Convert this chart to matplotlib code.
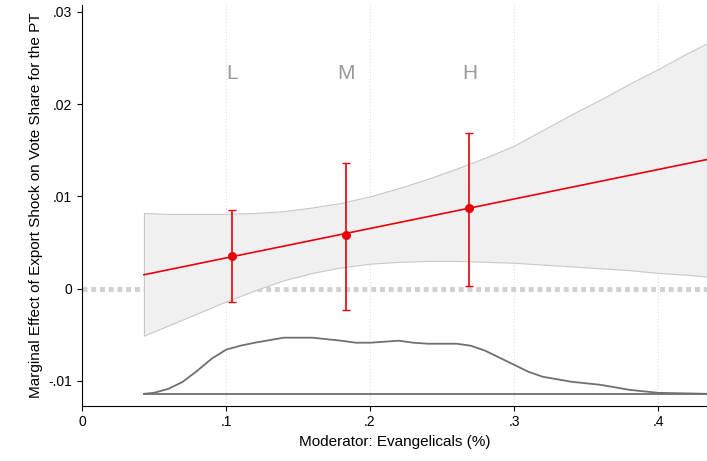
import numpy as np
import matplotlib.pyplot as plt

plt.rcParams["font.family"] = ["Liberation Sans", "DejaVu Sans"]

line_x = [0.043, 0.434]
line_y = [0.0015, 0.0140]

band_x = [0.043, 0.06, 0.08, 0.1, 0.12, 0.14, 0.16, 0.18, 0.2, 0.22, 0.24, 0.26, 0.28,
          0.3, 0.32, 0.34, 0.36, 0.38, 0.4, 0.42, 0.434]
band_hi = [0.0082, 0.0081, 0.0081, 0.0081, 0.0082, 0.0084, 0.0088, 0.0093, 0.0100, 0.0109,
           0.0119, 0.0130, 0.0142, 0.0155, 0.0172, 0.0189, 0.0205, 0.0222, 0.0238, 0.0255, 0.0266]
band_lo = [-0.0051, -0.0040, -0.0027, -0.0014, -0.0002, 0.0009, 0.0017, 0.0023, 0.0027,
           0.0029, 0.0030, 0.0030, 0.0029, 0.0028, 0.0026, 0.0024, 0.0022, 0.0020, 0.0017,
           0.0015, 0.0013]

pt_x = [0.104, 0.183, 0.269]
pt_y = [0.0035, 0.0058, 0.0087]
pt_lo = [-0.0015, -0.0023, 0.0003]
pt_hi = [0.0085, 0.0136, 0.0169]
pt_lab = ["L", "M", "H"]

dens_x = [0.043, 0.05, 0.06, 0.07, 0.08, 0.09, 0.1, 0.11, 0.12, 0.14, 0.16, 0.18, 0.19, 0.2,
          0.21, 0.22, 0.23, 0.24, 0.25, 0.26, 0.27, 0.28, 0.29, 0.3, 0.31, 0.32, 0.34, 0.36,
          0.38, 0.4, 0.434]
dens_px = [393, 392, 388, 381, 370, 358, 349, 345, 342, 337, 337, 340, 342, 342,
           341, 340, 342, 343, 343, 343, 345, 350, 357, 364, 371, 376, 381, 384,
           389, 392, 393]
dens_y = [(288 - p) / 92 * 0.01 for p in dens_px]
base_y = (288 - 393) / 92 * 0.01

fig, ax = plt.subplots(figsize=(7.07, 4.61), dpi=100)
fig.subplots_adjust(left=0.116, right=1.0, bottom=0.12, top=0.99)

for gx in [0.1, 0.2, 0.3, 0.4]:
    ax.axvline(gx, color="#dddddd", lw=0.8, ls=(0, (1, 2)), zorder=0)
ax.axhline(0, color="#d0d0d0", lw=3.5, ls=(0, (1, 0.8)), zorder=1)

ax.fill_between(band_x, band_lo, band_hi, color="#f0f0f0", edgecolor="#c8c8c8", lw=0.8, zorder=2)
ax.plot(line_x, line_y, color="#e8000b", lw=1.2, zorder=3)
yerr = [np.subtract(pt_y, pt_lo), np.subtract(pt_hi, pt_y)]
ax.errorbar(pt_x, pt_y, yerr=yerr, fmt="o", color="#e8000b", ms=5.5, capsize=3, lw=1.2, zorder=4)
for x, lab in zip(pt_x, pt_lab):
    ax.text(x, 0.0233, lab, color="#999999", fontsize=15, ha="center", va="center")

ax.plot(dens_x, dens_y, color="#707070", lw=1.3, zorder=3)
ax.plot([0.043, 0.434], [base_y, base_y], color="#707070", lw=1.3, zorder=3)

ax.set_xlim(0, 0.434)
ax.set_ylim(-0.0127, 0.0308)
ax.set_xticks([0, 0.1, 0.2, 0.3, 0.4])
ax.set_xticklabels(["0", ".1", ".2", ".3", ".4"])
ax.set_yticks([-0.01, 0, 0.01, 0.02, 0.03])
ax.set_yticklabels(["-.01", "0", ".01", ".02", ".03"])
ax.tick_params(labelsize=10)
ax.spines["top"].set_visible(False)
ax.spines["right"].set_visible(False)
ax.set_xlabel("Moderator: Evangelicals (%)", fontsize=11)
ax.set_ylabel("Marginal Effect of Export Shock on Vote Share for the PT", fontsize=11)
fig.savefig("out.png", dpi=100, facecolor="white")
